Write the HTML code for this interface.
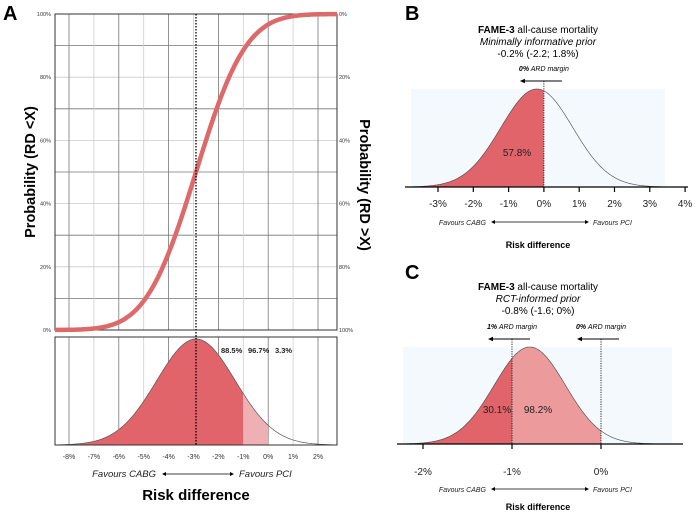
<!DOCTYPE html>
<html><head><meta charset="utf-8"><style>
body{margin:0;background:#fff;}
svg{display:block;font-family:"Liberation Sans",sans-serif;}
</style></head><body>
<svg id="fig" width="696" height="513" viewBox="0 0 696 513"></svg>
<script>
// ---- data ----
const aTicks=[-8,-7,-6,-5,-4,-3,-2,-1,0,1,2];
const aMean=[-2.9];const aSd=[1.58];
const aProbTicks=[0,20,40,60,80,100];
const aLabels=["88.5%","96.7%","3.3%"];
const bTicks=[-3,-2,-1,0,1,2,3,4];
const bMean=[-0.2];const bSd=[1.02];
const bLabels=["57.8%"];
const cTicks=[-2,-1,0];
const cMean=[-0.8];const cSd=[0.40];
const cLabels=["30.1%","98.2%"];

const NS="http://www.w3.org/2000/svg";
const svg=document.getElementById('fig');
function el(t,a,p){const e=document.createElementNS(NS,t);for(const k in a)e.setAttribute(k,a[k]);(p||svg).appendChild(e);return e;}
function txt(s,a,p){const e=el('text',a,p);e.textContent=s;return e;}
function pdf(x,m,s){return Math.exp(-0.5*((x-m)/s)**2);}
function erf(x){const t=1/(1+0.3275911*Math.abs(x));const y=1-(((((1.061405429*t-1.453152027)*t)+1.421413741)*t-0.284496736)*t+0.254829592)*t*Math.exp(-x*x);return x>=0?y:-y;}
function cdf(x,m,s){return 0.5*(1+erf((x-m)/(s*Math.SQRT2)));}

// ---- Panel A ----
const ax=v=>69+(v+8)*24.9;
const ayTop=p=>330-p/100*316;
let t=txt('A',{x:3,y:20,'font-size':20,'font-weight':'bold'});

for(let p=10;p<100;p+=10){const l=el('line',{x1:55,x2:337,y1:ayTop(p),y2:ayTop(p),stroke:p%20?'#777':'#ccc','stroke-width':0.8});
}
aTicks.forEach((v,i)=>{
 const l=el('line',{x1:ax(v),x2:ax(v),y1:14,y2:330,stroke:i%2?'#ccc':'#777','stroke-width':0.8});
 
 const l2=el('line',{x1:ax(v),x2:ax(v),y1:337,y2:445,stroke:i%2?'#ccc':'#777','stroke-width':0.8});
 
 const tt=txt((v>0?'':'')+v+'%',{x:ax(v),y:459,'font-size':7,'text-anchor':'middle',fill:'#333'});
 
});
aProbTicks.forEach(p=>{
 const a=txt(p+'%',{x:51,y:ayTop(p)+2,'font-size':5.5,'text-anchor':'end',fill:'#333'});
 
 const b=txt((100-p)+'%',{x:339,y:ayTop(p)+2,'font-size':5.5,fill:'#333'});
 
});
let r=el('rect',{x:55,y:14,width:282,height:316,fill:'none',stroke:'#333','stroke-width':1});

let d='';for(let x=55;x<=337;x+=1){const v=(x-69)/24.9-8;d+=(x==55?'M':'L')+x+','+ayTop(cdf(v,aMean[0],aSd[0])*100).toFixed(1);}
let cp=el('path',{d,fill:'none',stroke:'#dd6a6a','stroke-width':4.5});

// bottom density A
const aBase=445,aH=106;
function densPath(f,x0,x1,m,s,base,H,closed){let d='';for(let x=x0;x<=x1+0.01;x+=0.5){d+=(d?'L':'M')+x.toFixed(1)+','+(base-H*pdf(f(x),m,s)).toFixed(1);}if(closed)d+='L'+x1+','+base+'L'+x0+','+base+'Z';return d;}
const ainv=x=>(x-69)/24.9-8;
let p1=el('path',{d:densPath(ainv,55,ax(-1),aMean[0],aSd[0],aBase,aH,true),fill:'#e0646a'});

let p2=el('path',{d:densPath(ainv,ax(-1),ax(0),aMean[0],aSd[0],aBase,aH,true),fill:'#eeb0b2'});

let p3=el('path',{d:densPath(ainv,55,337,aMean[0],aSd[0],aBase,aH,false),fill:'none',stroke:'#555','stroke-width':0.7});

r=el('rect',{x:55,y:337,width:282,height:108,fill:'none',stroke:'#333','stroke-width':1});

let dl=el('line',{x1:ax(aMean[0]),x2:ax(aMean[0]),y1:14,y2:445,stroke:'#000','stroke-width':1.3,'stroke-dasharray':'1.5,1.5'});

aLabels.forEach((s,i)=>{const q=txt(s,{x:221+i*27,y:353,'font-size':7.5,'font-weight':'bold',fill:'#222'});
 });
function favours(xL,xA1,xA2,xR,y,fs,p){
 const a=txt('Favours CABG',{x:xL,y:y+3,'font-size':fs,'font-style':'italic','text-anchor':'end',fill:'#222'});
 
 const l=el('line',{x1:xA1+3,x2:xA2-3,y1:y,y2:y,stroke:'#000','stroke-width':0.8});
 
 el('path',{d:`M${xA1},${y}l4,-2v4z M${xA2},${y}l-4,-2v4z`,fill:'#000'});
 const b=txt('Favours PCI',{x:xR,y:y+3,'font-size':fs,'font-style':'italic',fill:'#222'});
 
}
favours(156,162,234,239,474,9.5);
t=txt('Risk difference',{x:196,y:500,'font-size':15,'font-weight':'bold','text-anchor':'middle'});

t=txt('Probability (RD <X)',{x:0,y:0,'font-size':14.5,'font-weight':'bold','text-anchor':'middle',transform:'translate(35,172) rotate(-90)'});

t=txt('Probability (RD >X)',{x:0,y:0,'font-size':14.5,'font-weight':'bold','text-anchor':'middle',transform:'translate(360,185) rotate(90)'});


// ---- generic density panel ----
function panel(cfg){
 const {letter,ly,titleY,prior,est,ticks,m,s,x0,scale,base,top,bg,lines,fills,labels,labelY,labelX,margins,axL,axR,tickY,favY,rdY,curveX0,curveX1}=cfg;
 const X=v=>x0+(v-ticks[0])*scale, inv=x=>(x-x0)/scale+ticks[0];
 let t=txt(letter,{x:405,y:ly,'font-size':20,'font-weight':'bold'});
 
 const g=el('text',{x:538,y:titleY,'font-size':10,'text-anchor':'middle'});
 
 const b1=el('tspan',{'font-weight':'bold'},g);b1.textContent='FAME-3';
 const b2=el('tspan',{},g);b2.textContent=' all-cause mortality';
 t=txt(prior,{x:538,y:titleY+12,'font-size':10,'font-style':'italic','text-anchor':'middle'});
 
 t=txt(est,{x:538,y:titleY+24,'font-size':10,'text-anchor':'middle'});
 
 const r=el('rect',{x:bg[0],y:top,width:bg[1]-bg[0],height:base-top,fill:'#f3f9fc'});
 
 const H=base-top;
 fills.forEach(f=>{const p=el('path',{d:densPath(inv,Math.max(curveX0,X(f[0])),X(f[1]),m,s,base,H,true),fill:f[2]});
  });
 const c=el('path',{d:densPath(inv,curveX0,curveX1,m,s,base,H,false),fill:'none',stroke:'#444','stroke-width':0.6});
 
 const a=el('line',{x1:axL,x2:axR,y1:base,y2:base,stroke:'#000','stroke-width':1.3});
 
 ticks.forEach(v=>{const l=el('line',{x1:X(v),x2:X(v),y1:base,y2:base+5,stroke:'#000','stroke-width':1.2});
  
  const q=txt(v+'%',{x:X(v),y:tickY,'font-size':10,'text-anchor':'middle',fill:'#222'});
  });
 margins.forEach(mg=>{const xv=X(mg[0]);
  const l=el('line',{x1:xv,x2:xv,y1:mg[2],y2:base,stroke:'#000','stroke-width':0.8,'stroke-dasharray':'1.2,1.2'});
  
  const q=el('text',{x:xv,y:mg[2]-10,'font-size':7,'font-style':'italic','text-anchor':'middle'});
  
  const s1=el('tspan',{'font-weight':'bold'},q);s1.textContent=mg[1];const s2=el('tspan',{},q);s2.textContent=' ARD margin';
  const ar=el('line',{x1:xv+18,x2:xv-20,y1:mg[2],y2:mg[2],stroke:'#000','stroke-width':0.9});
  
  el('path',{d:`M${xv-24},${mg[2]}l5,-2.2v4.4z`,fill:'#000'});});
 labels.forEach((s,i)=>{const q=txt(s,{x:labelX[i],y:labelY,'font-size':10,'text-anchor':'middle',fill:'#222'});
  });
 favours(486,491,589,593,favY,7);
 t=txt('Risk difference',{x:538,y:rdY,'font-size':9,'font-weight':'bold','text-anchor':'middle'});
 
}
panel({letter:'B',ly:20,titleY:33,prior:'Minimally informative prior',est:'-0.2% (-2.2; 1.8%)',ticks:bTicks,m:bMean[0],s:bSd[0],
 x0:438,scale:35.3,base:187,top:89,bg:[411,665],fills:[[-5,0,'#e0646a']],labels:bLabels,labelX:[517],labelY:156,
 margins:[[0,'0%',81]],axL:405,axR:688,tickY:207,favY:222,rdY:248,curveX0:411,curveX1:665});
panel({letter:'C',ly:279,titleY:290,prior:'RCT-informed prior',est:'-0.8% (-1.6; 0%)',ticks:cTicks,m:cMean[0],s:cSd[0],
 x0:423,scale:89,base:444,top:347,bg:[403,672],fills:[[-3,-1,'#e0646a'],[-1,0,'#ec9a9c']],labels:cLabels,labelX:[497,538],labelY:413,
 margins:[[-1,'1%',339],[0,'0%',339]],axL:397,axR:683,tickY:475,favY:489,rdY:510,curveX0:403,curveX1:672});
</script>
</body></html>
